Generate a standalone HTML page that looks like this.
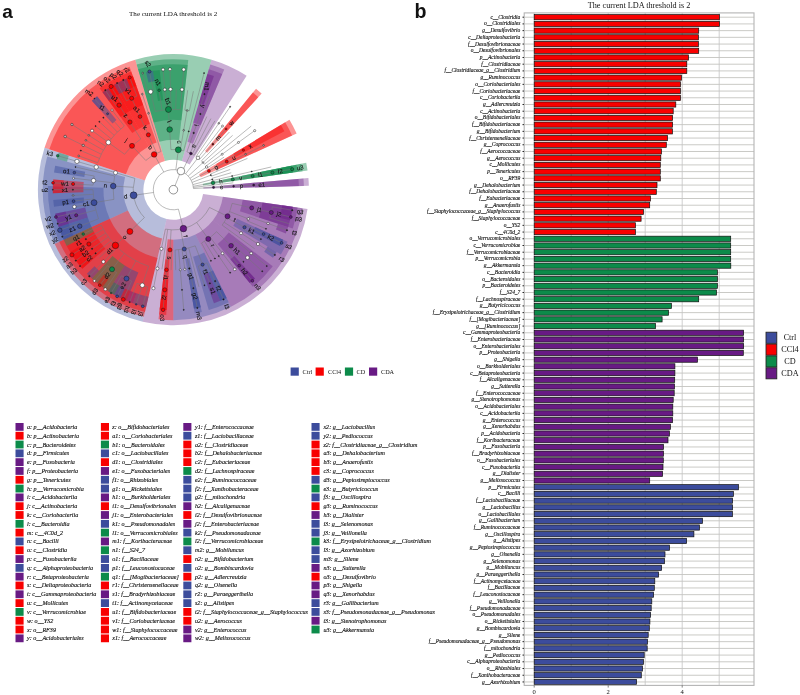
<!DOCTYPE html>
<html lang="en"><head><meta charset="utf-8"><title>LEfSe cladogram and LDA scores</title>
<style>html,body{margin:0;padding:0;background:#fff}body{width:800px;height:695px;overflow:hidden}svg{display:block}text{white-space:pre}</style></head><body>
<svg width="800" height="695" viewBox="0 0 800 695">
<rect width="800" height="695" fill="#fff"/>
<text x="2.2" y="18.2" font-family="'Liberation Sans', Arial, sans-serif" font-weight="bold" font-size="19" fill="#111">a</text>
<text x="414.6" y="18.2" font-family="'Liberation Sans', Arial, sans-serif" font-weight="bold" font-size="19.6" fill="#111">b</text>
<text x="173.2" y="16.2" font-family="'Liberation Serif', serif" font-size="7.05" text-anchor="middle" fill="#111">The current LDA threshold is 2</text>
<g id="cladogram"><g stroke="none"><path d="M203.39 188.84L308.84 185.83A135.5 135.5 0 0 0 308.4 178.1L203.29 187.13A30 30 0 0 1 203.39 188.84Z" fill="#681a84" fill-opacity="0.35"/><path d="M203.09 185.43L307.52 170.42A135.5 135.5 0 0 0 306.2 162.79L202.8 183.74A30 30 0 0 1 203.09 185.43Z" fill="#0c8b4a" fill-opacity="0.42"/><path d="M200.69 177.24L296.66 133.41A135.5 135.5 0 0 0 289.44 119.73L199.09 174.21A30 30 0 0 1 200.69 177.24Z" fill="#f80000" fill-opacity="0.42"/><path d="M189.62 164.46L246.66 75.71A135.5 135.5 0 0 0 211.57 59.69L181.85 160.92A30 30 0 0 1 189.62 164.46Z" fill="#681a84" fill-opacity="0.35"/><path d="M181.85 160.92L211.57 59.69A135.5 135.5 0 0 0 135.23 59.69L164.95 160.92A30 30 0 0 1 181.85 160.92Z" fill="#0c8b4a" fill-opacity="0.42"/><path d="M164.95 160.92L135.23 59.69A135.5 135.5 0 0 0 44.53 147.83L144.87 180.43A30 30 0 0 1 164.95 160.92Z" fill="#f80000" fill-opacity="0.42"/><path d="M144.87 180.43L44.53 147.83A135.5 135.5 0 0 0 142.71 321.68L166.61 218.92A30 30 0 0 1 144.87 180.43Z" fill="#3c4c9c" fill-opacity="0.37"/><path d="M166.61 218.92L142.71 321.68A135.5 135.5 0 0 0 307.52 208.98L203.09 193.97A30 30 0 0 1 166.61 218.92Z" fill="#681a84" fill-opacity="0.35"/><path d="M223.38 188.27L303.85 185.97A130.5 130.5 0 0 0 303.42 178.53L223.22 185.42A50 50 0 0 1 223.38 188.27Z" fill="#681a84" fill-opacity="0.35"/><path d="M222.89 182.58L302.57 171.13A130.5 130.5 0 0 0 301.3 163.78L222.4 179.77A50 50 0 0 1 222.89 182.58Z" fill="#0c8b4a" fill-opacity="0.42"/><path d="M218.88 168.93L292.11 135.49A130.5 130.5 0 0 0 285.15 122.31L216.22 163.88A50 50 0 0 1 218.88 168.93Z" fill="#f80000" fill-opacity="0.42"/><path d="M207.21 152.86L261.64 93.56A130.5 130.5 0 0 0 256.01 88.67L205.05 150.99A50 50 0 0 1 207.21 152.86Z" fill="#f80000" fill-opacity="0.42"/><path d="M192.86 143.64L224.2 69.49A130.5 130.5 0 0 0 210.17 64.49L187.49 141.73A50 50 0 0 1 192.86 143.64Z" fill="#681a84" fill-opacity="0.35"/><path d="M179.1 140.03L188.28 60.05A130.5 130.5 0 0 0 136.63 64.49L159.31 141.73A50 50 0 0 1 179.1 140.03Z" fill="#0c8b4a" fill-opacity="0.42"/><path d="M156.6 142.61L129.55 66.79A130.5 130.5 0 0 0 109.23 76.07L148.81 146.16A50 50 0 0 1 156.6 142.61Z" fill="#f80000" fill-opacity="0.42"/><path d="M148.81 146.16L109.23 76.07A130.5 130.5 0 0 0 49.29 149.37L125.85 174.25A50 50 0 0 1 148.81 146.16Z" fill="#f80000" fill-opacity="0.42"/><path d="M125.04 176.99L47.19 156.52A130.5 130.5 0 0 0 54.69 243.91L127.92 210.47A50 50 0 0 1 125.04 176.99Z" fill="#3c4c9c" fill-opacity="0.37"/><path d="M127.92 210.47L54.69 243.91A130.5 130.5 0 0 0 143.84 316.81L162.08 238.4A50 50 0 0 1 127.92 210.47Z" fill="#f80000" fill-opacity="0.42"/><path d="M167.7 239.37L158.52 319.35A130.5 130.5 0 0 0 173.4 320.2L173.4 239.7A50 50 0 0 1 167.7 239.37Z" fill="#f80000" fill-opacity="0.42"/><path d="M173.4 239.7L173.4 320.2A130.5 130.5 0 0 0 230.98 306.81L195.46 234.57A50 50 0 0 1 173.4 239.7Z" fill="#3c4c9c" fill-opacity="0.37"/><path d="M195.46 234.57L230.98 306.81A130.5 130.5 0 0 0 276.74 269.39L213 220.23A50 50 0 0 1 195.46 234.57Z" fill="#681a84" fill-opacity="0.35"/><path d="M213 220.23L276.74 269.39A130.5 130.5 0 0 0 302.57 208.27L222.89 196.82A50 50 0 0 1 213 220.23Z" fill="#681a84" fill-opacity="0.35"/><path d="M243.37 187.7L298.85 186.12A125.5 125.5 0 0 0 298.44 178.96L243.14 183.71A70 70 0 0 1 243.37 187.7Z" fill="#681a84" fill-opacity="0.35"/><path d="M242.69 179.74L297.62 171.84A125.5 125.5 0 0 0 296.4 164.78L242.01 175.8A70 70 0 0 1 242.69 179.74Z" fill="#0c8b4a" fill-opacity="0.42"/><path d="M235.31 157.03L284.4 131.13A125.5 125.5 0 0 0 280.87 124.89L233.34 153.55A70 70 0 0 1 235.31 157.03Z" fill="#f80000" fill-opacity="0.42"/><path d="M220.73 138.13L258.26 97.24A125.5 125.5 0 0 0 252.84 92.55L217.71 135.51A70 70 0 0 1 220.73 138.13Z" fill="#f80000" fill-opacity="0.42"/><path d="M200.65 125.22L222.25 74.1A125.5 125.5 0 0 0 208.76 69.28L193.12 122.54A70 70 0 0 1 200.65 125.22Z" fill="#681a84" fill-opacity="0.35"/><path d="M181.38 120.16L187.71 65.02A125.5 125.5 0 0 0 138.04 69.28L153.68 122.54A70 70 0 0 1 181.38 120.16Z" fill="#0c8b4a" fill-opacity="0.42"/><path d="M149.88 123.77L131.23 71.5A125.5 125.5 0 0 0 111.69 80.42L138.98 128.75A70 70 0 0 1 149.88 123.77Z" fill="#f80000" fill-opacity="0.42"/><path d="M138.98 128.75L111.69 80.42A125.5 125.5 0 0 0 99.63 88.17L132.26 133.07A70 70 0 0 1 138.98 128.75Z" fill="#f80000" fill-opacity="0.42"/><path d="M103.43 187.7L47.95 186.12A125.5 125.5 0 0 0 59.24 241.83L109.73 218.78A70 70 0 0 1 103.43 187.7Z" fill="#3c4c9c" fill-opacity="0.37"/><path d="M109.73 218.78L59.24 241.83A125.5 125.5 0 0 0 144.97 311.94L157.55 257.88A70 70 0 0 1 109.73 218.78Z" fill="#f80000" fill-opacity="0.42"/><path d="M165.42 259.24L159.09 314.38A125.5 125.5 0 0 0 166.24 315L169.4 259.59A70 70 0 0 1 165.42 259.24Z" fill="#f80000" fill-opacity="0.42"/><path d="M185.34 258.67L194.8 313.36A125.5 125.5 0 0 0 201.83 311.94L189.25 257.88A70 70 0 0 1 185.34 258.67Z" fill="#3c4c9c" fill-opacity="0.37"/><path d="M193.12 256.86L208.76 310.12A125.5 125.5 0 0 0 228.77 302.32L204.29 252.52A70 70 0 0 1 193.12 256.86Z" fill="#3c4c9c" fill-opacity="0.37"/><path d="M217.71 243.89L252.84 286.85A125.5 125.5 0 0 0 272.78 266.34L228.83 232.45A70 70 0 0 1 217.71 243.89Z" fill="#681a84" fill-opacity="0.35"/><path d="M233.34 225.85L280.87 254.51A125.5 125.5 0 0 0 287.56 241.83L237.07 218.78A70 70 0 0 1 233.34 225.85Z" fill="#3c4c9c" fill-opacity="0.37"/><path d="M239.97 211.33L292.76 228.48A125.5 125.5 0 0 0 297.62 207.56L242.69 199.66A70 70 0 0 1 239.97 211.33Z" fill="#681a84" fill-opacity="0.35"/><path d="M262.48 176.89L292.77 172.54A120.6 120.6 0 0 0 291.6 165.75L261.61 171.83A90 90 0 0 1 262.48 176.89Z" fill="#0c8b4a" fill-opacity="0.42"/><path d="M203.64 104.93L213.93 76.11A120.6 120.6 0 0 0 207.38 73.99L198.76 103.35A90 90 0 0 1 203.64 104.93Z" fill="#681a84" fill-opacity="0.45"/><path d="M163.14 100.29L159.65 69.89A120.6 120.6 0 0 0 152.84 70.87L158.05 101.02A90 90 0 0 1 163.14 100.29Z" fill="#0c8b4a" fill-opacity="0.42"/><path d="M143.16 104.93L132.87 76.11A120.6 120.6 0 0 0 114.1 84.69L129.14 111.33A90 90 0 0 1 143.16 104.93Z" fill="#f80000" fill-opacity="0.42"/><path d="M129.14 111.33L114.1 84.69A120.6 120.6 0 0 0 102.51 92.13L120.5 116.89A90 90 0 0 1 129.14 111.33Z" fill="#f80000" fill-opacity="0.42"/><path d="M116.43 120.03L97.06 96.34A120.6 120.6 0 0 0 91.85 100.85L112.54 123.39A90 90 0 0 1 116.43 120.03Z" fill="#3c4c9c" fill-opacity="0.47"/><path d="M85.19 171.83L55.2 165.75A120.6 120.6 0 0 0 54.03 172.54L84.32 176.89A90 90 0 0 1 85.19 171.83Z" fill="#3c4c9c" fill-opacity="0.47"/><path d="M83.73 182L53.24 179.38A120.6 120.6 0 0 0 52.85 186.26L83.44 187.13A90 90 0 0 1 83.73 182Z" fill="#f80000" fill-opacity="0.42"/><path d="M83.44 187.13L52.85 186.26A120.6 120.6 0 0 0 52.85 193.14L83.44 192.27A90 90 0 0 1 83.44 187.13Z" fill="#f80000" fill-opacity="0.42"/><path d="M83.73 197.4L53.24 200.02A120.6 120.6 0 0 0 54.03 206.86L84.32 202.51A90 90 0 0 1 83.73 197.4Z" fill="#3c4c9c" fill-opacity="0.47"/><path d="M85.19 207.57L55.2 213.65A120.6 120.6 0 0 0 58.7 226.97L87.8 217.51A90 90 0 0 1 85.19 207.57Z" fill="#681a84" fill-opacity="0.45"/><path d="M87.8 217.51L58.7 226.97A120.6 120.6 0 0 0 63.7 239.8L91.53 227.09A90 90 0 0 1 87.8 217.51Z" fill="#3c4c9c" fill-opacity="0.47"/><path d="M91.53 227.09L63.7 239.8A120.6 120.6 0 0 0 66.74 245.98L93.8 231.7A90 90 0 0 1 91.53 227.09Z" fill="#0c8b4a" fill-opacity="0.42"/><path d="M93.8 231.7L66.74 245.98A120.6 120.6 0 0 0 70.12 251.98L96.33 236.18A90 90 0 0 1 93.8 231.7Z" fill="#f80000" fill-opacity="0.42"/><path d="M96.33 236.18L70.12 251.98A120.6 120.6 0 0 0 73.85 257.77L99.11 240.5A90 90 0 0 1 96.33 236.18Z" fill="#f80000" fill-opacity="0.42"/><path d="M99.11 240.5L73.85 257.77A120.6 120.6 0 0 0 77.9 263.34L102.13 244.66A90 90 0 0 1 99.11 240.5Z" fill="#f80000" fill-opacity="0.42"/><path d="M102.13 244.66L77.9 263.34A120.6 120.6 0 0 0 82.26 268.68L105.38 248.64A90 90 0 0 1 102.13 244.66Z" fill="#f80000" fill-opacity="0.42"/><path d="M112.54 256.01L91.85 278.55A120.6 120.6 0 0 0 108.2 291.16L124.74 265.41A90 90 0 0 1 112.54 256.01Z" fill="#0c8b4a" fill-opacity="0.42"/><path d="M124.74 265.41L108.2 291.16A120.6 120.6 0 0 0 126.45 300.79L138.37 272.6A90 90 0 0 1 124.74 265.41Z" fill="#3c4c9c" fill-opacity="0.47"/><path d="M163.14 279.11L159.65 309.51A120.6 120.6 0 0 0 166.52 310.1L168.26 279.55A90 90 0 0 1 163.14 279.11Z" fill="#f80000" fill-opacity="0.42"/><path d="M188.75 278.38L193.96 308.53A120.6 120.6 0 0 0 200.72 307.17L193.78 277.36A90 90 0 0 1 188.75 278.38Z" fill="#3c4c9c" fill-opacity="0.47"/><path d="M203.64 274.47L213.93 303.29A120.6 120.6 0 0 0 220.35 300.79L208.43 272.6A90 90 0 0 1 203.64 274.47Z" fill="#681a84" fill-opacity="0.45"/><path d="M208.43 272.6L220.35 300.79A120.6 120.6 0 0 0 226.61 297.93L213.11 270.47A90 90 0 0 1 208.43 272.6Z" fill="#3c4c9c" fill-opacity="0.47"/><path d="M230.37 259.37L249.74 283.06A120.6 120.6 0 0 0 254.95 278.55L234.26 256.01A90 90 0 0 1 230.37 259.37Z" fill="#681a84" fill-opacity="0.45"/><path d="M253 231.7L280.06 245.98A120.6 120.6 0 0 0 283.1 239.8L255.27 227.09A90 90 0 0 1 253 231.7Z" fill="#3c4c9c" fill-opacity="0.47"/><path d="M259 217.51L288.1 226.97A120.6 120.6 0 0 0 292.77 206.86L262.48 202.51A90 90 0 0 1 259 217.51Z" fill="#681a84" fill-opacity="0.45"/><path d="M282.28 174.05L292.77 172.54A120.6 120.6 0 0 0 291.6 165.75L281.21 167.86A110 110 0 0 1 282.28 174.05Z" fill="#0c8b4a" fill-opacity="0.42"/><path d="M154.64 81.31L152.84 70.87A120.6 120.6 0 0 0 146.08 72.23L148.49 82.56A110 110 0 0 1 154.64 81.31Z" fill="#3c4c9c" fill-opacity="0.47"/><path d="M136.43 86.1L132.87 76.11A120.6 120.6 0 0 0 126.45 78.61L130.58 88.38A110 110 0 0 1 136.43 86.1Z" fill="#f80000" fill-opacity="0.42"/><path d="M130.58 88.38L126.45 78.61A120.6 120.6 0 0 0 120.19 81.47L124.87 90.99A110 110 0 0 1 130.58 88.38Z" fill="#3c4c9c" fill-opacity="0.47"/><path d="M124.87 90.99L120.19 81.47A120.6 120.6 0 0 0 114.1 84.69L119.31 93.92A110 110 0 0 1 124.87 90.99Z" fill="#3c4c9c" fill-opacity="0.47"/><path d="M119.31 93.92L114.1 84.69A120.6 120.6 0 0 0 108.2 88.24L113.93 97.16A110 110 0 0 1 119.31 93.92Z" fill="#f80000" fill-opacity="0.42"/><path d="M113.93 97.16L108.2 88.24A120.6 120.6 0 0 0 102.51 92.13L108.74 100.71A110 110 0 0 1 113.93 97.16Z" fill="#3c4c9c" fill-opacity="0.47"/><path d="M103.77 104.54L97.06 96.34A120.6 120.6 0 0 0 91.85 100.85L99.02 108.66A110 110 0 0 1 103.77 104.54Z" fill="#3c4c9c" fill-opacity="0.47"/><path d="M68.78 155.71L58.7 152.43A120.6 120.6 0 0 0 56.76 159.04L67.01 161.74A110 110 0 0 1 68.78 155.71Z" fill="#0c8b4a" fill-opacity="0.42"/><path d="M63.8 180.29L53.24 179.38A120.6 120.6 0 0 0 52.85 186.26L63.44 186.56A110 110 0 0 1 63.8 180.29Z" fill="#f80000" fill-opacity="0.42"/><path d="M63.44 186.56L52.85 186.26A120.6 120.6 0 0 0 52.85 193.14L63.44 192.84A110 110 0 0 1 63.44 186.56Z" fill="#f80000" fill-opacity="0.42"/><path d="M65.59 211.54L55.2 213.65A120.6 120.6 0 0 0 56.76 220.36L67.01 217.66A110 110 0 0 1 65.59 211.54Z" fill="#681a84" fill-opacity="0.45"/><path d="M67.01 217.66L56.76 220.36A120.6 120.6 0 0 0 58.7 226.97L68.78 223.69A110 110 0 0 1 67.01 217.66Z" fill="#681a84" fill-opacity="0.45"/><path d="M68.78 223.69L58.7 226.97A120.6 120.6 0 0 0 61.02 233.45L70.89 229.61A110 110 0 0 1 68.78 223.69Z" fill="#3c4c9c" fill-opacity="0.47"/><path d="M70.89 229.61L61.02 233.45A120.6 120.6 0 0 0 63.7 239.8L73.34 235.4A110 110 0 0 1 70.89 229.61Z" fill="#3c4c9c" fill-opacity="0.47"/><path d="M79.2 246.5L70.12 251.98A120.6 120.6 0 0 0 73.85 257.77L82.6 251.79A110 110 0 0 1 79.2 246.5Z" fill="#f80000" fill-opacity="0.42"/><path d="M82.6 251.79L73.85 257.77A120.6 120.6 0 0 0 77.9 263.34L86.29 256.87A110 110 0 0 1 82.6 251.79Z" fill="#f80000" fill-opacity="0.42"/><path d="M86.29 256.87L77.9 263.34A120.6 120.6 0 0 0 82.26 268.68L90.27 261.73A110 110 0 0 1 86.29 256.87Z" fill="#f80000" fill-opacity="0.42"/><path d="M94.52 266.36L86.91 273.75A120.6 120.6 0 0 0 91.85 278.55L99.02 270.74A110 110 0 0 1 94.52 266.36Z" fill="#3c4c9c" fill-opacity="0.47"/><path d="M103.77 274.86L97.06 283.06A120.6 120.6 0 0 0 102.51 287.27L108.74 278.69A110 110 0 0 1 103.77 274.86Z" fill="#f80000" fill-opacity="0.42"/><path d="M113.93 282.24L108.2 291.16A120.6 120.6 0 0 0 114.1 294.71L119.31 285.48A110 110 0 0 1 113.93 282.24Z" fill="#0c8b4a" fill-opacity="0.42"/><path d="M119.31 285.48L114.1 294.71A120.6 120.6 0 0 0 120.19 297.93L124.87 288.41A110 110 0 0 1 119.31 285.48Z" fill="#3c4c9c" fill-opacity="0.47"/><path d="M124.87 288.41L120.19 297.93A120.6 120.6 0 0 0 126.45 300.79L130.58 291.02A110 110 0 0 1 124.87 288.41Z" fill="#f80000" fill-opacity="0.42"/><path d="M130.58 291.02L126.45 300.79A120.6 120.6 0 0 0 132.87 303.29L136.43 293.3A110 110 0 0 1 130.58 291.02Z" fill="#681a84" fill-opacity="0.45"/><path d="M136.43 293.3L132.87 303.29A120.6 120.6 0 0 0 139.42 305.41L142.41 295.24A110 110 0 0 1 136.43 293.3Z" fill="#3c4c9c" fill-opacity="0.47"/><path d="M142.41 295.24L139.42 305.41A120.6 120.6 0 0 0 146.08 307.17L148.49 296.84A110 110 0 0 1 142.41 295.24Z" fill="#3c4c9c" fill-opacity="0.47"/><path d="M160.86 298.98L159.65 309.51A120.6 120.6 0 0 0 166.52 310.1L167.12 299.52A110 110 0 0 1 160.86 298.98Z" fill="#f80000" fill-opacity="0.42"/><path d="M192.16 298.09L193.96 308.53A120.6 120.6 0 0 0 200.72 307.17L198.31 296.84A110 110 0 0 1 192.16 298.09Z" fill="#3c4c9c" fill-opacity="0.47"/><path d="M216.22 291.02L220.35 300.79A120.6 120.6 0 0 0 226.61 297.93L221.93 288.41A110 110 0 0 1 216.22 291.02Z" fill="#3c4c9c" fill-opacity="0.47"/><path d="M243.03 274.86L249.74 283.06A120.6 120.6 0 0 0 254.95 278.55L247.78 270.74A110 110 0 0 1 243.03 274.86Z" fill="#681a84" fill-opacity="0.45"/><path d="M264.2 251.79L272.95 257.77A120.6 120.6 0 0 0 276.68 251.98L267.6 246.5A110 110 0 0 1 264.2 251.79Z" fill="#3c4c9c" fill-opacity="0.47"/><path d="M270.69 241.03L280.06 245.98A120.6 120.6 0 0 0 283.1 239.8L273.46 235.4A110 110 0 0 1 270.69 241.03Z" fill="#3c4c9c" fill-opacity="0.47"/><path d="M275.91 229.61L285.78 233.45A120.6 120.6 0 0 0 288.1 226.97L278.02 223.69A110 110 0 0 1 275.91 229.61Z" fill="#681a84" fill-opacity="0.45"/><path d="M279.79 217.66L290.04 220.36A120.6 120.6 0 0 0 291.6 213.65L281.21 211.54A110 110 0 0 1 279.79 217.66Z" fill="#681a84" fill-opacity="0.45"/><path d="M281.21 211.54L291.6 213.65A120.6 120.6 0 0 0 292.77 206.86L282.28 205.35A110 110 0 0 1 281.21 211.54Z" fill="#681a84" fill-opacity="0.45"/></g>
<path d="M173.4 189.7L180.95 171.07M193.47 188.55A20.1 20.1 0 1 0 178.41 209.17M193.47 188.55L213.53 187.41M193.37 187.41L213.34 185.12M193.21 186.27L213.01 182.85M192.84 184.59L212.28 179.48M192.13 182.41L210.86 175.12M191.18 180.32L208.95 170.94M189.99 178.35L206.58 167.01M188.21 176.11L203.02 162.52M185.67 173.78L197.95 157.87M182.14 171.6L190.88 153.5M175.85 169.75L178.3 149.8M163.77 172.06L154.13 154.42M153.5 192.5L133.59 195.3M178.41 209.17L183.42 228.63M213.53 187.41L233.6 186.26M233.6 186.26L253.67 185.11M253.67 185.11L273.74 183.96M213.34 185.12L233.31 182.83M213.01 182.85L232.82 179.42M232.82 179.42L252.62 175.99M252.62 175.99L272.43 172.56M272.43 172.56L292.23 169.14M212.56 180.59A40.2 40.2 0 0 0 211.97 178.37M212.56 180.59L232.13 176.04M211.97 178.37L231.26 172.71M232.13 176.04L251.71 171.49M251.71 171.49L271.29 166.94M211.26 176.19A40.2 40.2 0 0 0 210.43 174.05M211.26 176.19L230.19 169.44M210.43 174.05L228.94 166.23M228.94 166.23L247.46 158.4M208.95 170.94L226.73 161.56M227.51 163.09A60.3 60.3 0 0 0 225.91 160.05M227.51 163.09L245.55 154.23M225.91 160.05L243.41 150.16M245.55 154.23L263.59 145.36M207.22 167.97A40.2 40.2 0 0 0 205.92 166.07M207.22 167.97L224.13 157.1M205.92 166.07L222.18 154.26M222.18 154.26L238.44 142.44M238.44 142.44L254.71 130.63M204.52 164.25A40.2 40.2 0 0 0 201.42 160.87M204.52 164.25L220.08 151.53M203.02 162.52L217.83 148.93M201.42 160.87L215.43 146.46M220.08 151.53L235.64 138.81M235.64 138.81L251.2 126.08M217.83 148.93L232.63 135.34M215.43 146.46L229.43 132.04M199.73 159.32A40.2 40.2 0 0 0 196.09 156.52M199.73 159.32L212.89 144.13M197.95 157.87L210.22 141.95M196.09 156.52L207.44 139.92M212.89 144.13L226.05 128.94M210.22 141.95L222.5 126.03M207.44 139.92L218.78 123.33M218.78 123.33L230.13 106.74M194.16 155.27A40.2 40.2 0 0 0 186.91 151.84M194.16 155.27L204.54 138.06M192.16 154.15L201.54 136.37M190.1 153.13L198.45 134.85M186.91 151.84L193.66 132.91M204.54 138.06L214.92 120.85M201.54 136.37L210.92 118.59M198.45 134.85L206.8 116.57M193.66 132.91L200.42 113.98M202.57 114.78A80.4 80.4 0 0 0 198.24 113.24M202.57 114.78L209.86 96.05M198.24 113.24L204.46 94.12M183.62 150.82A40.2 40.2 0 0 0 170.91 149.58M183.62 150.82L188.73 131.38M180.25 150.09L183.68 130.28M170.91 149.58L169.67 129.52M188.73 131.38L193.84 111.94M193.84 111.94L198.95 92.5M198.95 92.5L204.06 73.06M183.68 130.28L187.11 110.48M189.37 110.9A80.4 80.4 0 0 0 184.84 110.12M189.37 110.9L193.36 91.2M184.84 110.12L187.7 90.22M169.67 129.52L168.43 109.45M180.28 109.59A80.4 80.4 0 0 0 155.19 111.39M180.28 109.59L182 89.57M175.7 109.33L176.27 89.24M171.1 109.33L170.53 89.24M166.52 109.59L164.8 89.57M161.96 110.12L159.1 90.22M155.19 111.39L150.64 91.81M182 89.57L183.72 69.54M170.53 89.24L169.96 69.15M164.8 89.57L163.08 69.54M153.44 91.2A100.5 100.5 0 0 0 147.85 92.5M153.44 91.2L149.45 71.5M147.85 92.5L142.74 73.06M160.98 151.47A40.2 40.2 0 0 0 145.8 160.47M160.98 151.47L154.77 132.35M156.7 153.13L148.35 134.85M145.8 160.47L132 145.86M154.77 132.35L148.56 113.24M148.56 113.24L142.34 94.12M148.35 134.85L140 116.57M140 116.57L131.65 98.28M136.94 96.05A100.5 100.5 0 0 0 126.5 100.81M136.94 96.05L129.65 77.32M131.65 98.28L123.3 80M126.5 100.81L117.12 83.04M140.8 138.97A60.3 60.3 0 0 0 124.62 154.26M140.8 138.97L129.93 122.06M124.62 154.26L108.36 142.44M129.93 122.06L119.07 105.15M121.5 103.64A100.5 100.5 0 0 0 116.67 106.74M121.5 103.64L111.12 86.42M116.67 106.74L105.33 90.15M124.3 126.03A80.4 80.4 0 0 0 97.68 162.68M124.3 126.03L112.03 110.11M120.75 128.94L107.59 113.75M117.37 132.04L103.36 117.63M114.17 135.34L99.36 121.74M111.16 138.81L95.6 126.08M108.36 142.44L92.09 130.63M105.76 146.23L88.85 135.37M103.39 150.16L85.89 140.28M101.25 154.23L83.21 145.36M99.34 158.4L80.83 150.58M97.68 162.68L78.74 155.93M107.59 113.75L94.42 98.56M88.85 135.37L71.94 124.5M83.21 145.36L65.17 136.49M134.83 178.37A40.2 40.2 0 0 0 144.41 217.55M134.83 178.37L115.54 172.71M133.27 187.28L113.21 186.07M144.41 217.55L129.92 231.48M115.54 172.71L96.26 167.05M96.26 167.05L76.97 161.39M76.97 161.39L57.69 155.72M114.67 176.04A60.3 60.3 0 0 0 113.89 199.42M114.67 176.04L95.09 171.49M113.49 182.83L93.52 180.54M113.89 199.42L94.05 202.66M95.09 171.49L75.51 166.94M94.18 175.99A80.4 80.4 0 0 0 93.13 185.11M94.18 175.99L74.37 172.56M93.52 180.54L73.56 178.24M93.13 185.11L73.06 183.96M73.06 183.96L53 182.82M93 189.7A80.4 80.4 0 0 0 98.48 218.87M93 189.7L72.9 189.7M93.13 194.29L73.06 195.44M93.52 198.86L73.56 201.16M94.18 203.41L74.37 206.84M95.64 210.14L76.2 215.25M98.48 218.87L79.75 226.16M72.9 189.7L52.8 189.7M75.51 212.46A100.5 100.5 0 0 0 76.97 218.01M75.51 212.46L55.93 217.02M76.97 218.01L57.69 223.68M78.74 223.47A100.5 100.5 0 0 0 80.83 228.82M78.74 223.47L59.81 230.23M80.83 228.82L62.31 236.65M129.92 231.48L115.42 245.4M101.25 225.17A80.4 80.4 0 0 0 148.56 266.16M101.25 225.17L83.21 234.04M103.39 229.24L85.89 239.12M105.76 233.17L88.85 244.03M108.36 236.96L92.09 248.77M111.16 240.59L95.6 253.32M114.17 244.06L99.36 257.66M117.37 247.36L103.36 261.77M124.3 253.37L112.03 269.29M135.88 260.81L126.5 278.59M148.56 266.16L142.34 285.28M88.85 244.03L71.94 254.9M92.09 248.77L75.83 260.59M95.6 253.32L80.04 266.04M103.36 261.77L89.35 276.19M107.59 265.65A100.5 100.5 0 0 0 116.67 272.66M107.59 265.65L94.42 280.84M112.03 269.29L99.76 285.2M116.67 272.66L105.33 289.25M121.5 275.76A100.5 100.5 0 0 0 131.65 281.12M121.5 275.76L111.12 292.98M126.5 278.59L117.12 296.36M131.65 281.12L123.3 299.4M136.94 283.35A100.5 100.5 0 0 0 147.85 286.9M136.94 283.35L129.65 302.08M142.34 285.28L136.13 304.4M147.85 286.9L142.74 306.34M165.42 229.1A40.2 40.2 0 0 0 209.48 207.44M165.42 229.1L161.42 248.8M167.68 229.49L164.82 249.39M171.11 229.83L169.96 249.9M180.63 229.24L184.25 249.02M196.66 222.49L208.28 238.89M209.48 207.44L227.51 216.31M161.42 248.8L157.43 268.5M157.43 268.5L153.44 288.2M164.82 249.39L161.96 269.28M168.24 249.78A60.3 60.3 0 0 0 171.68 249.98M168.24 249.78L166.52 269.81M171.68 249.98L171.1 270.07M166.52 269.81L164.8 289.83M164.8 289.83L163.08 309.86M175.12 249.98A60.3 60.3 0 0 0 195.28 245.89M175.12 249.98L175.7 270.07M178.56 249.78L180.28 269.81M181.98 249.39L184.84 269.28M185.38 248.8L189.37 268.5M188.73 248.02L193.84 267.46M195.28 245.89L202.57 264.62M180.28 269.81L182 289.83M182 289.83L183.72 309.86M189.37 268.5L193.36 288.2M193.36 288.2L197.35 307.9M193.84 267.46L198.95 286.9M198.24 266.16A80.4 80.4 0 0 0 206.8 262.83M198.24 266.16L204.46 285.28M202.57 264.62L209.86 283.35M206.8 262.83L215.15 281.12M215.15 281.12L223.5 299.4M201.54 243.03A60.3 60.3 0 0 0 216.64 231.73M201.54 243.03L210.92 260.81M204.54 241.34L214.92 258.55M207.44 239.48L218.78 256.07M210.22 237.45L222.5 253.37M216.64 231.73L231.06 245.73M218.78 256.07L230.13 272.66M222.5 253.37L234.77 269.29M226.05 250.46A80.4 80.4 0 0 0 235.64 240.59M226.05 250.46L239.21 265.65M229.43 247.36L243.44 261.77M232.63 244.06L247.44 257.66M235.64 240.59L251.2 253.32M239.21 265.65L252.38 280.84M247.44 257.66L262.25 271.25M251.2 253.32L266.76 266.04M222.18 225.14A60.3 60.3 0 0 0 232.13 203.36M222.18 225.14L238.44 236.96M224.13 222.3L241.04 233.17M226.73 217.84L244.51 227.22M229.59 211.58L248.32 218.87M232.13 203.36L251.71 207.91M238.44 236.96L254.71 248.77M241.04 233.17L257.95 244.03M257.95 244.03L274.86 254.9M243.41 229.24A80.4 80.4 0 0 0 245.55 225.17M243.41 229.24L260.91 239.12M245.55 225.17L263.59 234.04M263.59 234.04L281.63 242.91M247.46 221A80.4 80.4 0 0 0 249.12 216.72M247.46 221L265.97 228.82M249.12 216.72L268.06 223.47M268.06 223.47L286.99 230.23M251.71 207.91L271.29 212.46M269.83 218.01A100.5 100.5 0 0 0 272.43 206.84M269.83 218.01L289.11 223.68M271.29 212.46L290.87 217.02M272.43 206.84L292.23 210.26" fill="none" stroke="#767676" stroke-width="0.5"/>
<g stroke="#111" stroke-width="0.45"><circle cx="94.42" cy="98.56" r="0.5" fill="#222222"/><circle cx="52.8" cy="189.7" r="0.5" fill="#222222"/><circle cx="212.28" cy="179.48" r="0.55" fill="#222222"/><circle cx="232.13" cy="176.04" r="0.55" fill="#222222"/><circle cx="251.71" cy="171.49" r="0.55" fill="#222222"/><circle cx="210.86" cy="175.12" r="0.55" fill="#222222"/><circle cx="230.13" cy="106.74" r="0.55" fill="#222222"/><circle cx="188.73" cy="131.38" r="0.55" fill="#222222"/><circle cx="204.06" cy="73.06" r="0.55" fill="#222222"/><circle cx="103.36" cy="117.63" r="0.55" fill="#222222"/><circle cx="99.36" cy="121.74" r="0.55" fill="#222222"/><circle cx="95.6" cy="126.08" r="0.55" fill="#222222"/><circle cx="80.83" cy="150.58" r="0.55" fill="#222222"/><circle cx="75.51" cy="166.94" r="0.55" fill="#222222"/><circle cx="182" cy="289.83" r="0.55" fill="#222222"/><circle cx="183.72" cy="309.86" r="0.55" fill="#222222"/><circle cx="204.46" cy="285.28" r="0.55" fill="#222222"/><circle cx="210.92" cy="260.81" r="0.55" fill="#222222"/><circle cx="214.92" cy="258.55" r="0.55" fill="#222222"/><circle cx="218.78" cy="256.07" r="0.55" fill="#222222"/><circle cx="230.13" cy="272.66" r="0.55" fill="#222222"/><circle cx="243.44" cy="261.77" r="0.55" fill="#222222"/><circle cx="262.25" cy="271.25" r="0.55" fill="#222222"/><circle cx="266.76" cy="266.04" r="0.55" fill="#222222"/><circle cx="260.91" cy="239.12" r="0.55" fill="#222222"/><circle cx="265.97" cy="228.82" r="0.55" fill="#222222"/><circle cx="72.9" cy="189.7" r="0.6" fill="#222222"/><circle cx="57.69" cy="223.68" r="0.6" fill="#222222"/><circle cx="200.42" cy="113.98" r="0.65" fill="#222222"/><circle cx="204.46" cy="94.12" r="0.65" fill="#222222"/><circle cx="123.3" cy="80" r="0.65" fill="#222222"/><circle cx="117.12" cy="83.04" r="0.65" fill="#222222"/><circle cx="105.33" cy="90.15" r="0.65" fill="#222222"/><circle cx="62.31" cy="236.65" r="0.65" fill="#222222"/><circle cx="85.89" cy="239.12" r="0.65" fill="#222222"/><circle cx="92.09" cy="248.77" r="0.65" fill="#222222"/><circle cx="75.83" cy="260.59" r="0.65" fill="#222222"/><circle cx="95.6" cy="253.32" r="0.65" fill="#222222"/><circle cx="80.04" cy="266.04" r="0.65" fill="#222222"/><circle cx="129.65" cy="302.08" r="0.65" fill="#222222"/><circle cx="193.36" cy="288.2" r="0.65" fill="#222222"/><circle cx="197.35" cy="307.9" r="0.65" fill="#222222"/><circle cx="274.86" cy="254.9" r="0.65" fill="#222222"/><circle cx="286.99" cy="230.23" r="0.65" fill="#222222"/><circle cx="209.86" cy="283.35" r="0.7" fill="#222222"/><circle cx="215.15" cy="281.12" r="0.7" fill="#222222"/><circle cx="223.5" cy="299.4" r="0.7" fill="#222222"/><circle cx="292.23" cy="210.26" r="0.7" fill="#222222"/><circle cx="193.66" cy="132.91" r="0.75" fill="#222222"/><circle cx="203.02" cy="162.52" r="0.8" fill="#ffffff"/><circle cx="89.35" cy="276.19" r="0.8" fill="#222222"/><circle cx="111.12" cy="292.98" r="0.8" fill="#0c8b4a"/><circle cx="136.13" cy="304.4" r="0.8" fill="#3c4c9c"/><circle cx="189.37" cy="268.5" r="0.8" fill="#222222"/><circle cx="245.55" cy="154.23" r="0.85" fill="#bbbbbb"/><circle cx="263.59" cy="145.36" r="0.85" fill="#bbbbbb"/><circle cx="218.78" cy="123.33" r="0.85" fill="#bbbbbb"/><circle cx="183.68" cy="130.28" r="0.85" fill="#bbbbbb"/><circle cx="187.11" cy="110.48" r="0.85" fill="#bbbbbb"/><circle cx="142.74" cy="73.06" r="0.85" fill="#bbbbbb"/><circle cx="148.56" cy="113.24" r="0.85" fill="#bbbbbb"/><circle cx="142.34" cy="94.12" r="0.85" fill="#bbbbbb"/><circle cx="88.85" cy="135.37" r="0.85" fill="#bbbbbb"/><circle cx="85.89" cy="140.28" r="0.85" fill="#bbbbbb"/><circle cx="78.74" cy="155.93" r="0.85" fill="#bbbbbb"/><circle cx="73.06" cy="195.44" r="0.85" fill="#bbbbbb"/><circle cx="233.6" cy="186.26" r="0.9" fill="#3a0a4a"/><circle cx="253.67" cy="185.11" r="1" fill="#3a0a4a"/><circle cx="222.18" cy="154.26" r="1" fill="#ffffff"/><circle cx="238.44" cy="142.44" r="1" fill="#ffffff"/><circle cx="212.89" cy="144.13" r="1" fill="#7a0000"/><circle cx="226.05" cy="128.94" r="1" fill="#f80000"/><circle cx="222.5" cy="126.03" r="1" fill="#ffffff"/><circle cx="107.59" cy="113.75" r="1" fill="#3c4c9c"/><circle cx="73.56" cy="178.24" r="1" fill="#ffffff"/><circle cx="180.28" cy="269.81" r="1" fill="#ffffff"/><circle cx="112.03" cy="110.11" r="1.05" fill="#ffffff"/><circle cx="213.53" cy="187.41" r="1.1" fill="#3a0a4a"/><circle cx="254.71" cy="130.63" r="1.1" fill="#ffffff"/><circle cx="184.84" cy="269.28" r="1.1" fill="#ffffff"/><circle cx="243.41" cy="150.16" r="1.15" fill="#f80000"/><circle cx="268.06" cy="223.47" r="1.15" fill="#ffffff"/><circle cx="71.94" cy="124.5" r="1.2" fill="#bbbbbb"/><circle cx="83.21" cy="145.36" r="1.2" fill="#bbbbbb"/><circle cx="248.32" cy="218.87" r="1.2" fill="#ffffff"/><circle cx="206.58" cy="167.01" r="1.25" fill="#ffffff"/><circle cx="190.88" cy="153.5" r="1.3" fill="#3a0a4a"/><circle cx="159.1" cy="90.22" r="1.3" fill="#0c8b4a"/><circle cx="57.69" cy="155.72" r="1.3" fill="#0c8b4a"/><circle cx="74.37" cy="172.56" r="1.3" fill="#3c4c9c"/><circle cx="83.21" cy="234.04" r="1.3" fill="#0c8b4a"/><circle cx="94.42" cy="280.84" r="1.3" fill="#ffffff"/><circle cx="222.5" cy="253.37" r="1.3" fill="#ffffff"/><circle cx="251.2" cy="253.32" r="1.35" fill="#ffffff"/><circle cx="65.17" cy="136.49" r="1.3" fill="#bbbbbb"/><circle cx="234.77" cy="269.29" r="1.4" fill="#ffffff"/><circle cx="169.96" cy="69.15" r="1.5" fill="#ffffff"/><circle cx="164.8" cy="89.57" r="1.5" fill="#ffffff"/><circle cx="163.08" cy="69.54" r="1.5" fill="#ffffff"/><circle cx="92.09" cy="130.63" r="1.5" fill="#ffffff"/><circle cx="53" cy="182.82" r="1.4" fill="#f80000"/><circle cx="73.56" cy="201.16" r="1.4" fill="#3c4c9c"/><circle cx="55.93" cy="217.02" r="1.4" fill="#681a84"/><circle cx="99.76" cy="285.2" r="1.4" fill="#f80000"/><circle cx="105.33" cy="289.25" r="1.5" fill="#ffffff"/><circle cx="117.12" cy="296.36" r="1.4" fill="#3c4c9c"/><circle cx="142.74" cy="306.34" r="1.4" fill="#3c4c9c"/><circle cx="239.21" cy="265.65" r="1.4" fill="#681a84"/><circle cx="252.38" cy="280.84" r="1.4" fill="#681a84"/><circle cx="241.04" cy="233.17" r="1.5" fill="#ffffff"/><circle cx="263.59" cy="234.04" r="1.4" fill="#3c4c9c"/><circle cx="281.63" cy="242.91" r="1.4" fill="#3c4c9c"/><circle cx="290.87" cy="217.02" r="1.4" fill="#681a84"/><circle cx="161.42" cy="248.8" r="1.55" fill="#ffffff"/><circle cx="157.43" cy="268.5" r="1.55" fill="#ffffff"/><circle cx="153.44" cy="288.2" r="1.55" fill="#ffffff"/><circle cx="208.95" cy="170.94" r="1.49" fill="#f80000"/><circle cx="226.73" cy="161.56" r="1.49" fill="#f80000"/><circle cx="257.95" cy="244.03" r="1.6" fill="#ffffff"/><circle cx="232.82" cy="179.42" r="1.58" fill="#0c8b4a"/><circle cx="252.62" cy="175.99" r="1.58" fill="#0c8b4a"/><circle cx="272.43" cy="172.56" r="1.58" fill="#0c8b4a"/><circle cx="292.23" cy="169.14" r="1.58" fill="#0c8b4a"/><circle cx="182" cy="89.57" r="1.7" fill="#ffffff"/><circle cx="183.72" cy="69.54" r="1.7" fill="#ffffff"/><circle cx="170.53" cy="89.24" r="1.7" fill="#ffffff"/><circle cx="149.45" cy="71.5" r="1.58" fill="#3c4c9c"/><circle cx="129.65" cy="77.32" r="1.58" fill="#f80000"/><circle cx="73.06" cy="183.96" r="1.58" fill="#f80000"/><circle cx="76.2" cy="215.25" r="1.58" fill="#681a84"/><circle cx="103.36" cy="261.77" r="1.7" fill="#ffffff"/><circle cx="202.57" cy="264.62" r="1.58" fill="#3c4c9c"/><circle cx="244.51" cy="227.22" r="1.58" fill="#3c4c9c"/><circle cx="197.95" cy="157.87" r="1.75" fill="#ffffff"/><circle cx="74.37" cy="206.84" r="1.75" fill="#ffffff"/><circle cx="247.44" cy="257.66" r="1.8" fill="#ffffff"/><circle cx="163.08" cy="309.86" r="1.77" fill="#f80000"/><circle cx="213.01" cy="182.85" r="1.86" fill="#0c8b4a"/><circle cx="140" cy="116.57" r="1.86" fill="#f80000"/><circle cx="115.54" cy="172.71" r="2" fill="#ffffff"/><circle cx="166.52" cy="269.81" r="1.86" fill="#f80000"/><circle cx="123.3" cy="299.4" r="1.95" fill="#f80000"/><circle cx="96.26" cy="167.05" r="2.15" fill="#ffffff"/><circle cx="76.97" cy="161.39" r="2.15" fill="#ffffff"/><circle cx="93.52" cy="180.54" r="2.15" fill="#ffffff"/><circle cx="150.64" cy="91.81" r="2.2" fill="#ffffff"/><circle cx="148.35" cy="134.85" r="2.05" fill="#f80000"/><circle cx="131.65" cy="98.28" r="2.05" fill="#f80000"/><circle cx="111.12" cy="86.42" r="2.05" fill="#f80000"/><circle cx="88.85" cy="244.03" r="2.05" fill="#f80000"/><circle cx="71.94" cy="254.9" r="2.05" fill="#f80000"/><circle cx="142.34" cy="285.28" r="2.2" fill="#ffffff"/><circle cx="169.96" cy="249.9" r="2.05" fill="#f80000"/><circle cx="164.8" cy="289.83" r="2.05" fill="#f80000"/><circle cx="184.25" cy="249.02" r="2.05" fill="#3c4c9c"/><circle cx="251.71" cy="207.91" r="2.05" fill="#681a84"/><circle cx="271.29" cy="212.46" r="2.05" fill="#681a84"/><circle cx="129.93" cy="122.06" r="2.14" fill="#f80000"/><circle cx="119.07" cy="105.15" r="2.14" fill="#f80000"/><circle cx="108.36" cy="142.44" r="2.35" fill="#ffffff"/><circle cx="79.75" cy="226.16" r="2.23" fill="#3c4c9c"/><circle cx="59.81" cy="230.23" r="2.23" fill="#3c4c9c"/><circle cx="231.06" cy="245.73" r="2.33" fill="#681a84"/><circle cx="132" cy="145.86" r="2.51" fill="#f80000"/><circle cx="112.03" cy="269.29" r="2.51" fill="#0c8b4a"/><circle cx="126.5" cy="278.59" r="2.51" fill="#3c4c9c"/><circle cx="208.28" cy="238.89" r="2.51" fill="#681a84"/><circle cx="227.51" cy="216.31" r="2.51" fill="#681a84"/><circle cx="169.67" cy="129.52" r="2.79" fill="#0c8b4a"/><circle cx="154.13" cy="154.42" r="2.79" fill="#f80000"/><circle cx="113.21" cy="186.07" r="2.79" fill="#3c4c9c"/><circle cx="178.3" cy="149.8" r="2.98" fill="#0c8b4a"/><circle cx="168.43" cy="109.45" r="2.98" fill="#0c8b4a"/><circle cx="94.05" cy="202.66" r="2.98" fill="#3c4c9c"/><circle cx="129.92" cy="231.48" r="2.98" fill="#f80000"/><circle cx="115.42" cy="245.4" r="3.26" fill="#f80000"/><circle cx="183.42" cy="228.63" r="3.26" fill="#681a84"/><circle cx="133.59" cy="195.3" r="3.44" fill="#3c4c9c"/><circle cx="180.95" cy="171.07" r="3.8" fill="#ffffff"/><circle cx="173.4" cy="189.7" r="4.3" fill="#ffffff"/></g>
<g font-family="'Liberation Sans', Arial, sans-serif" font-size="6.1" text-anchor="middle" fill="#111" stroke="#111" stroke-width="0.1"><text transform="translate(221.52 186.95) rotate(-3.27)" y="2.1">e</text><text transform="translate(241.59 185.8) rotate(-3.27)" y="2.1">p</text><text transform="translate(261.66 184.65) rotate(-3.27)" y="2.1">e1</text><text transform="translate(220.89 181.48) rotate(-9.82)" y="2.1">h</text><text transform="translate(240.7 178.05) rotate(-9.82)" y="2.1">v</text><text transform="translate(260.51 174.63) rotate(-9.82)" y="2.1">l1</text><text transform="translate(280.31 171.2) rotate(-9.82)" y="2.1">l2</text><text transform="translate(300.12 167.77) rotate(-9.82)" y="2.1">u3</text><text transform="translate(216.03 167.21) rotate(-27.82)" y="2.1">g</text><text transform="translate(233.81 157.83) rotate(-27.82)" y="2.1">u</text><text transform="translate(250.37 146.23) rotate(-29.45)" y="2.1">x</text><text transform="translate(218.13 138.08) rotate(-49.09)" y="2.1">m</text><text transform="translate(231.29 122.89) rotate(-49.09)" y="2.1">w</text><text transform="translate(194.36 146.29) rotate(110.5)" y="2.1">a</text><text transform="translate(196.35 125.37) rotate(100.86)" y="2.1">i</text><text transform="translate(203.11 106.44) rotate(100.86)" y="2.1">y</text><text transform="translate(206.93 86.51) rotate(98.29)" y="2.1">m1</text><text transform="translate(179.27 141.86) rotate(81)" y="2.1">c</text><text transform="translate(169.18 121.53) rotate(66.45)" y="2.1">l</text><text transform="translate(167.93 101.47) rotate(66.45)" y="2.1">b1</text><text transform="translate(157.96 82.3) rotate(61.82)" y="2.1">n1</text><text transform="translate(147.86 63.66) rotate(58.55)" y="2.1">s2</text><text transform="translate(150.3 147.4) rotate(41.36)" y="2.1">b</text><text transform="translate(145.03 127.57) rotate(45.45)" y="2.1">k</text><text transform="translate(136.68 109.29) rotate(45.45)" y="2.1">a1</text><text transform="translate(128.33 91) rotate(45.45)" y="2.1">v1</text><text transform="translate(126.74 69.86) rotate(48.73)" y="2.1">r2</text><text transform="translate(119.98 72.72) rotate(45.45)" y="2.1">q2</text><text transform="translate(113.39 75.96) rotate(42.18)" y="2.1">p2</text><text transform="translate(126.5 140.05) rotate(30.82)" y="2.1">j</text><text transform="translate(125.61 115.33) rotate(37.27)" y="2.1">z</text><text transform="translate(114.74 98.42) rotate(37.27)" y="2.1">u1</text><text transform="translate(106.99 79.57) rotate(38.91)" y="2.1">o2</text><text transform="translate(100.81 83.54) rotate(35.64)" y="2.1">n2</text><text transform="translate(102.35 107.7) rotate(32.05)" y="2.1">t1</text><text transform="translate(89.18 92.51) rotate(32.05)" y="2.1">m2</text><text transform="translate(125.67 196.42) rotate(-8.01)" y="2.1">d</text><text transform="translate(50.01 153.47) rotate(15.68)" y="2.1">k3</text><text transform="translate(105.22 185.58) rotate(3.45)" y="2.1">n</text><text transform="translate(66.49 171.2) rotate(9.82)" y="2.1">o1</text><text transform="translate(65.08 183.51) rotate(3.27)" y="2.1">w1</text><text transform="translate(45.01 182.36) rotate(3.27)" y="2.1">t2</text><text transform="translate(86.16 203.94) rotate(-9.27)" y="2.1">c1</text><text transform="translate(64.9 189.7) rotate(0)" y="2.1">x1</text><text transform="translate(44.8 189.7) rotate(0)" y="2.1">u2</text><text transform="translate(65.61 202.07) rotate(-6.55)" y="2.1">p1</text><text transform="translate(68.46 217.28) rotate(-14.73)" y="2.1">y1</text><text transform="translate(48.14 218.83) rotate(-13.09)" y="2.1">v2</text><text transform="translate(50.01 225.93) rotate(-16.36)" y="2.1">w2</text><text transform="translate(72.29 229.06) rotate(-21.27)" y="2.1">z1</text><text transform="translate(52.28 232.92) rotate(-19.64)" y="2.1">x2</text><text transform="translate(54.94 239.76) rotate(-22.91)" y="2.1">y2</text><text transform="translate(124.15 237.02) rotate(-43.85)" y="2.1">o</text><text transform="translate(109.65 250.95) rotate(-43.85)" y="2.1">d1</text><text transform="translate(76.03 237.57) rotate(-26.18)" y="2.1">q1</text><text transform="translate(78.92 243.05) rotate(-29.45)" y="2.1">r1</text><text transform="translate(82.12 248.36) rotate(-32.73)" y="2.1">a2</text><text transform="translate(65.21 259.23) rotate(-32.73)" y="2.1">z2</text><text transform="translate(85.62 253.47) rotate(-36)" y="2.1">b2</text><text transform="translate(69.36 265.29) rotate(-36)" y="2.1">a3</text><text transform="translate(89.41 258.38) rotate(-39.27)" y="2.1">c2</text><text transform="translate(73.85 271.11) rotate(-39.27)" y="2.1">b3</text><text transform="translate(83.77 281.92) rotate(-45.82)" y="2.1">c3</text><text transform="translate(107.14 275.62) rotate(-52.36)" y="2.1">d2</text><text transform="translate(94.87 291.54) rotate(-52.36)" y="2.1">d3</text><text transform="translate(122.77 285.66) rotate(-62.18)" y="2.1">e2</text><text transform="translate(106.99 299.83) rotate(-58.91)" y="2.1">e3</text><text transform="translate(113.39 303.44) rotate(-62.18)" y="2.1">f3</text><text transform="translate(119.98 306.68) rotate(-245.45)" y="2.1">g3</text><text transform="translate(126.74 309.54) rotate(-248.73)" y="2.1">h3</text><text transform="translate(133.66 312.01) rotate(-252)" y="2.1">i3</text><text transform="translate(140.71 314.08) rotate(-255.27)" y="2.1">j3</text><text transform="translate(185.42 236.38) rotate(-284.44)" y="2.1">f</text><text transform="translate(169.5 257.89) rotate(-266.73)" y="2.1">s</text><text transform="translate(165.84 277.78) rotate(-265.09)" y="2.1">i1</text><text transform="translate(164.12 297.8) rotate(-265.09)" y="2.1">i2</text><text transform="translate(162.4 317.83) rotate(-265.09)" y="2.1">o3</text><text transform="translate(185.69 256.89) rotate(-280.36)" y="2.1">q</text><text transform="translate(190.96 276.34) rotate(-281.45)" y="2.1">g1</text><text transform="translate(194.95 296.04) rotate(-281.45)" y="2.1">g2</text><text transform="translate(198.94 315.74) rotate(-281.45)" y="2.1">m3</text><text transform="translate(205.47 272.08) rotate(-291.27)" y="2.1">f1</text><text transform="translate(212.76 290.81) rotate(-291.27)" y="2.1">s1</text><text transform="translate(218.47 288.4) rotate(-294.55)" y="2.1">f2</text><text transform="translate(226.82 306.68) rotate(-294.55)" y="2.1">l3</text><text transform="translate(212.91 245.41) rotate(-305.35)" y="2.1">r</text><text transform="translate(236.79 251.31) rotate(-315.82)" y="2.1">h1</text><text transform="translate(244.45 271.7) rotate(-310.91)" y="2.1">h2</text><text transform="translate(257.62 286.89) rotate(-310.91)" y="2.1">n3</text><text transform="translate(234.69 219.84) rotate(-333.82)" y="2.1">t</text><text transform="translate(281.59 259.23) rotate(-327.27)" y="2.1">r3</text><text transform="translate(251.58 230.95) rotate(-332.18)" y="2.1">k1</text><text transform="translate(270.77 237.57) rotate(-333.82)" y="2.1">k2</text><text transform="translate(288.81 246.44) rotate(-333.82)" y="2.1">s3</text><text transform="translate(294.52 232.92) rotate(-340.36)" y="2.1">t3</text><text transform="translate(259.5 209.72) rotate(-346.91)" y="2.1">j1</text><text transform="translate(279.08 214.27) rotate(-346.91)" y="2.1">j2</text><text transform="translate(298.66 218.83) rotate(-346.91)" y="2.1">p3</text><text transform="translate(300.12 211.63) rotate(-350.18)" y="2.1">q3</text></g></g>
<g id="groups"><rect x="290.6" y="367.5" width="8.2" height="8.2" fill="#3c4c9c"/>
<text x="302.6" y="373.6" font-family="'Liberation Serif', serif" font-size="6.2" fill="#111">Ctrl</text>
<rect x="315.6" y="367.5" width="8.2" height="8.2" fill="#f80000"/>
<text x="328" y="373.6" font-family="'Liberation Serif', serif" font-size="6.2" fill="#111">CCl4</text>
<rect x="344.9" y="367.5" width="8.2" height="8.2" fill="#0c8b4a"/>
<text x="356.6" y="373.6" font-family="'Liberation Serif', serif" font-size="6.2" fill="#111">CD</text>
<rect x="369" y="367.5" width="8.2" height="8.2" fill="#681a84"/>
<text x="381" y="373.6" font-family="'Liberation Serif', serif" font-size="6.2" fill="#111">CDA</text></g>
<g id="taxa"><g fill="#f80000"><rect x="15.5" y="431.81" width="8.1" height="7.8"/><rect x="15.5" y="475.86" width="8.1" height="7.8"/><rect x="15.5" y="502.29" width="8.1" height="7.8"/><rect x="15.5" y="511.1" width="8.1" height="7.8"/><rect x="15.5" y="528.72" width="8.1" height="7.8"/><rect x="15.5" y="546.34" width="8.1" height="7.8"/><rect x="15.5" y="581.58" width="8.1" height="7.8"/><rect x="15.5" y="599.2" width="8.1" height="7.8"/><rect x="15.5" y="616.82" width="8.1" height="7.8"/><rect x="15.5" y="625.63" width="8.1" height="7.8"/><rect x="100.9" y="423" width="8.1" height="7.8"/><rect x="100.9" y="431.81" width="8.1" height="7.8"/><rect x="100.9" y="458.24" width="8.1" height="7.8"/><rect x="100.9" y="502.29" width="8.1" height="7.8"/><rect x="100.9" y="581.58" width="8.1" height="7.8"/><rect x="100.9" y="608.01" width="8.1" height="7.8"/><rect x="100.9" y="616.82" width="8.1" height="7.8"/><rect x="100.9" y="625.63" width="8.1" height="7.8"/><rect x="100.9" y="634.44" width="8.1" height="7.8"/><rect x="183.3" y="440.62" width="8.1" height="7.8"/><rect x="183.3" y="449.43" width="8.1" height="7.8"/><rect x="183.3" y="458.24" width="8.1" height="7.8"/><rect x="183.3" y="511.1" width="8.1" height="7.8"/><rect x="183.3" y="555.15" width="8.1" height="7.8"/><rect x="183.3" y="572.77" width="8.1" height="7.8"/><rect x="183.3" y="608.01" width="8.1" height="7.8"/><rect x="183.3" y="616.82" width="8.1" height="7.8"/><rect x="311.5" y="440.62" width="8.1" height="7.8"/><rect x="311.5" y="449.43" width="8.1" height="7.8"/><rect x="311.5" y="458.24" width="8.1" height="7.8"/><rect x="311.5" y="467.05" width="8.1" height="7.8"/><rect x="311.5" y="502.29" width="8.1" height="7.8"/><rect x="311.5" y="572.77" width="8.1" height="7.8"/></g>
<g fill="#0c8b4a"><rect x="15.5" y="440.62" width="8.1" height="7.8"/><rect x="15.5" y="484.67" width="8.1" height="7.8"/><rect x="15.5" y="519.91" width="8.1" height="7.8"/><rect x="15.5" y="608.01" width="8.1" height="7.8"/><rect x="100.9" y="440.62" width="8.1" height="7.8"/><rect x="100.9" y="528.72" width="8.1" height="7.8"/><rect x="100.9" y="546.34" width="8.1" height="7.8"/><rect x="100.9" y="572.77" width="8.1" height="7.8"/><rect x="183.3" y="467.05" width="8.1" height="7.8"/><rect x="183.3" y="537.53" width="8.1" height="7.8"/><rect x="311.5" y="484.67" width="8.1" height="7.8"/><rect x="311.5" y="537.53" width="8.1" height="7.8"/><rect x="311.5" y="625.63" width="8.1" height="7.8"/></g>
<g fill="#3c4c9c"><rect x="15.5" y="449.43" width="8.1" height="7.8"/><rect x="15.5" y="537.53" width="8.1" height="7.8"/><rect x="15.5" y="563.96" width="8.1" height="7.8"/><rect x="100.9" y="449.43" width="8.1" height="7.8"/><rect x="100.9" y="475.86" width="8.1" height="7.8"/><rect x="100.9" y="484.67" width="8.1" height="7.8"/><rect x="100.9" y="519.91" width="8.1" height="7.8"/><rect x="100.9" y="555.15" width="8.1" height="7.8"/><rect x="100.9" y="563.96" width="8.1" height="7.8"/><rect x="100.9" y="599.2" width="8.1" height="7.8"/><rect x="183.3" y="431.81" width="8.1" height="7.8"/><rect x="183.3" y="475.86" width="8.1" height="7.8"/><rect x="183.3" y="484.67" width="8.1" height="7.8"/><rect x="183.3" y="493.48" width="8.1" height="7.8"/><rect x="183.3" y="528.72" width="8.1" height="7.8"/><rect x="183.3" y="546.34" width="8.1" height="7.8"/><rect x="183.3" y="563.96" width="8.1" height="7.8"/><rect x="183.3" y="581.58" width="8.1" height="7.8"/><rect x="183.3" y="590.39" width="8.1" height="7.8"/><rect x="183.3" y="599.2" width="8.1" height="7.8"/><rect x="311.5" y="423" width="8.1" height="7.8"/><rect x="311.5" y="431.81" width="8.1" height="7.8"/><rect x="311.5" y="475.86" width="8.1" height="7.8"/><rect x="311.5" y="493.48" width="8.1" height="7.8"/><rect x="311.5" y="519.91" width="8.1" height="7.8"/><rect x="311.5" y="528.72" width="8.1" height="7.8"/><rect x="311.5" y="546.34" width="8.1" height="7.8"/><rect x="311.5" y="555.15" width="8.1" height="7.8"/><rect x="311.5" y="599.2" width="8.1" height="7.8"/><rect x="311.5" y="608.01" width="8.1" height="7.8"/></g>
<g fill="#681a84"><rect x="15.5" y="423" width="8.1" height="7.8"/><rect x="15.5" y="458.24" width="8.1" height="7.8"/><rect x="15.5" y="467.05" width="8.1" height="7.8"/><rect x="15.5" y="493.48" width="8.1" height="7.8"/><rect x="15.5" y="555.15" width="8.1" height="7.8"/><rect x="15.5" y="572.77" width="8.1" height="7.8"/><rect x="15.5" y="590.39" width="8.1" height="7.8"/><rect x="15.5" y="634.44" width="8.1" height="7.8"/><rect x="100.9" y="467.05" width="8.1" height="7.8"/><rect x="100.9" y="493.48" width="8.1" height="7.8"/><rect x="100.9" y="511.1" width="8.1" height="7.8"/><rect x="100.9" y="537.53" width="8.1" height="7.8"/><rect x="100.9" y="590.39" width="8.1" height="7.8"/><rect x="183.3" y="423" width="8.1" height="7.8"/><rect x="183.3" y="502.29" width="8.1" height="7.8"/><rect x="183.3" y="519.91" width="8.1" height="7.8"/><rect x="183.3" y="625.63" width="8.1" height="7.8"/><rect x="183.3" y="634.44" width="8.1" height="7.8"/><rect x="311.5" y="511.1" width="8.1" height="7.8"/><rect x="311.5" y="563.96" width="8.1" height="7.8"/><rect x="311.5" y="581.58" width="8.1" height="7.8"/><rect x="311.5" y="590.39" width="8.1" height="7.8"/><rect x="311.5" y="616.82" width="8.1" height="7.8"/></g>
<g font-family="'Liberation Serif', 'Times New Roman', serif" font-style="italic" font-size="6.1" fill="#111" stroke="#111" stroke-width="0.13"><text x="27" y="428.9">a: p__Acidobacteria</text><text x="27" y="437.71">b: p__Actinobacteria</text><text x="27" y="446.52">c: p__Bacteroidetes</text><text x="27" y="455.33">d: p__Firmicutes</text><text x="27" y="464.14">e: p__Fusobacteria</text><text x="27" y="472.95">f: p__Proteobacteria</text><text x="27" y="481.76">g: p__Tenericutes</text><text x="27" y="490.57">h: p__Verrucomicrobia</text><text x="27" y="499.38">i: c__Acidobacteriia</text><text x="27" y="508.19">j: c__Actinobacteria</text><text x="27" y="517">k: c__Coriobacteriia</text><text x="27" y="525.81">l: c__Bacteroidia</text><text x="27" y="534.62">m: c__4C0d_2</text><text x="27" y="543.43">n: c__Bacilli</text><text x="27" y="552.24">o: c__Clostridia</text><text x="27" y="561.05">p: c__Fusobacteriia</text><text x="27" y="569.86">q: c__Alphaproteobacteria</text><text x="27" y="578.67">r: c__Betaproteobacteria</text><text x="27" y="587.48">s: c__Deltaproteobacteria</text><text x="27" y="596.29">t: c__Gammaproteobacteria</text><text x="27" y="605.1">u: c__Mollicutes</text><text x="27" y="613.91">v: c__Verrucomicrobiae</text><text x="27" y="622.72">w: o__YS2</text><text x="27" y="631.53">x: o__RF39</text><text x="27" y="640.34">y: o__Acidobacteriales</text><text x="112.3" y="428.9">z: o__Bifidobacteriales</text><text x="112.3" y="437.71">a1: o__Coriobacteriales</text><text x="112.3" y="446.52">b1: o__Bacteroidales</text><text x="112.3" y="455.33">c1: o__Lactobacillales</text><text x="112.3" y="464.14">d1: o__Clostridiales</text><text x="112.3" y="472.95">e1: o__Fusobacteriales</text><text x="112.3" y="481.76">f1: o__Rhizobiales</text><text x="112.3" y="490.57">g1: o__Rickettsiales</text><text x="112.3" y="499.38">h1: o__Burkholderiales</text><text x="112.3" y="508.19">i1: o__Desulfovibrionales</text><text x="112.3" y="517">j1: o__Enterobacteriales</text><text x="112.3" y="525.81">k1: o__Pseudomonadales</text><text x="112.3" y="534.62">l1: o__Verrucomicrobiales</text><text x="112.3" y="543.43">m1: f__Koribacteraceae</text><text x="112.3" y="552.24">n1: f__S24_7</text><text x="112.3" y="561.05">o1: f__Bacillaceae</text><text x="112.3" y="569.86">p1: f__Leuconostocaceae</text><text x="112.3" y="578.67">q1: f__[Mogibacteriaceae]</text><text x="112.3" y="587.48">r1: f__Christensenellaceae</text><text x="112.3" y="596.29">s1: f__Bradyrhizobiaceae</text><text x="112.3" y="605.1">t1: f__Actinomycetaceae</text><text x="112.3" y="613.91">u1: f__Bifidobacteriaceae</text><text x="112.3" y="622.72">v1: f__Coriobacteriaceae</text><text x="112.3" y="631.53">w1: f__Staphylococcaceae</text><text x="112.3" y="640.34">x1: f__Aerococcaceae</text><text x="195" y="428.9">y1: f__Enterococcaceae</text><text x="195" y="437.71">z1: f__Lactobacillaceae</text><text x="195" y="446.52">a2: f__Clostridiaceae</text><text x="195" y="455.33">b2: f__Dehalobacteriaceae</text><text x="195" y="464.14">c2: f__Eubacteriaceae</text><text x="195" y="472.95">d2: f__Lachnospiraceae</text><text x="195" y="481.76">e2: f__Ruminococcaceae</text><text x="195" y="490.57">f2: f__Xanthobacteraceae</text><text x="195" y="499.38">g2: f__mitochondria</text><text x="195" y="508.19">h2: f__Alcaligenaceae</text><text x="195" y="517">i2: f__Desulfovibrionaceae</text><text x="195" y="525.81">j2: f__Enterobacteriaceae</text><text x="195" y="534.62">k2: f__Pseudomonadaceae</text><text x="195" y="543.43">l2: f__Verrucomicrobiaceae</text><text x="195" y="552.24">m2: g__Mobiluncus</text><text x="195" y="561.05">n2: g__Bifidobacterium</text><text x="195" y="569.86">o2: g__Bombiscardovia</text><text x="195" y="578.67">p2: g__Adlercreutzia</text><text x="195" y="587.48">q2: g__Olsenella</text><text x="195" y="596.29">r2: g__Paraeggerthella</text><text x="195" y="605.1">s2: g__Alistipes</text><text x="195" y="613.91">t2: f__Staphylococcaceae_g__Staphylococcus</text><text x="195" y="622.72">u2: g__Aerococcus</text><text x="195" y="631.53">v2: g__Enterococcus</text><text x="195" y="640.34">w2: g__Melissococcus</text><text x="323.4" y="428.9">x2: g__Lactobacillus</text><text x="323.4" y="437.71">y2: g__Pediococcus</text><text x="323.4" y="446.52">z2: f__Clostridiaceae_g__Clostridium</text><text x="323.4" y="455.33">a3: g__Dehalobacterium</text><text x="323.4" y="464.14">b3: g__Anaerofustis</text><text x="323.4" y="472.95">c3: g__Coprococcus</text><text x="323.4" y="481.76">d3: g__Peptostreptococcus</text><text x="323.4" y="490.57">e3: g__Butyricicoccus</text><text x="323.4" y="499.38">f3: g__Oscillospira</text><text x="323.4" y="508.19">g3: g__Ruminococcus</text><text x="323.4" y="517">h3: g__Dialister</text><text x="323.4" y="525.81">i3: g__Selenomonas</text><text x="323.4" y="534.62">j3: g__Veillonella</text><text x="323.4" y="543.43">k3: f__Erysipelotrichaceae_g__Clostridium</text><text x="323.4" y="552.24">l3: g__Azorhizobium</text><text x="323.4" y="561.05">m3: g__Silene</text><text x="323.4" y="569.86">n3: g__Sutterella</text><text x="323.4" y="578.67">o3: g__Desulfovibrio</text><text x="323.4" y="587.48">p3: g__Shigella</text><text x="323.4" y="596.29">q3: g__Xenorhabdus</text><text x="323.4" y="605.1">r3: g__Gallibacterium</text><text x="323.4" y="613.91">s3: f__Pseudomonadaceae_g__Pseudomonas</text><text x="323.4" y="622.72">t3: g__Stenotrophomonas</text><text x="323.4" y="631.53">u3: g__Akkermansia</text></g></g>
<g id="lda"><rect x="524.2" y="12.9" width="229.8" height="672.5" fill="#fff" stroke="none"/>
<path d="M524.2 17.2H754M524.2 23.91H754M524.2 30.63H754M524.2 37.34H754M524.2 44.06H754M524.2 50.77H754M524.2 57.49H754M524.2 64.2H754M524.2 70.92H754M524.2 77.63H754M524.2 84.35H754M524.2 91.06H754M524.2 97.78H754M524.2 104.49H754M524.2 111.21H754M524.2 117.92H754M524.2 124.63H754M524.2 131.35H754M524.2 138.06H754M524.2 144.78H754M524.2 151.49H754M524.2 158.21H754M524.2 164.92H754M524.2 171.64H754M524.2 178.35H754M524.2 185.07H754M524.2 191.78H754M524.2 198.5H754M524.2 205.21H754M524.2 211.92H754M524.2 218.64H754M524.2 225.35H754M524.2 232.07H754M524.2 238.78H754M524.2 245.5H754M524.2 252.21H754M524.2 258.93H754M524.2 265.64H754M524.2 272.36H754M524.2 279.07H754M524.2 285.79H754M524.2 292.5H754M524.2 299.22H754M524.2 305.93H754M524.2 312.64H754M524.2 319.36H754M524.2 326.07H754M524.2 332.79H754M524.2 339.5H754M524.2 346.22H754M524.2 352.93H754M524.2 359.65H754M524.2 366.36H754M524.2 373.08H754M524.2 379.79H754M524.2 386.51H754M524.2 393.22H754M524.2 399.93H754M524.2 406.65H754M524.2 413.36H754M524.2 420.08H754M524.2 426.79H754M524.2 433.51H754M524.2 440.22H754M524.2 446.94H754M524.2 453.65H754M524.2 460.37H754M524.2 467.08H754M524.2 473.8H754M524.2 480.51H754M524.2 487.23H754M524.2 493.94H754M524.2 500.65H754M524.2 507.37H754M524.2 514.08H754M524.2 520.8H754M524.2 527.51H754M524.2 534.23H754M524.2 540.94H754M524.2 547.66H754M524.2 554.37H754M524.2 561.09H754M524.2 567.8H754M524.2 574.52H754M524.2 581.23H754M524.2 587.94H754M524.2 594.66H754M524.2 601.37H754M524.2 608.09H754M524.2 614.8H754M524.2 621.52H754M524.2 628.23H754M524.2 634.95H754M524.2 641.66H754M524.2 648.38H754M524.2 655.09H754M524.2 661.81H754M524.2 668.52H754M524.2 675.24H754M524.2 681.95H754" stroke="#c4c4c0" stroke-width="0.9" fill="none"/>
<path d="M534.2 12.9V685.4M571.2 12.9V685.4M608.2 12.9V685.4M645.2 12.9V685.4M682.2 12.9V685.4M719.2 12.9V685.4" stroke="#c4c4c4" stroke-width="0.8" fill="none"/>
<g fill="#f80000" stroke="#101010" stroke-width="0.7"><rect x="534.2" y="14.6" width="185.2" height="5.2"/><rect x="534.2" y="21.31" width="185.2" height="5.2"/><rect x="534.2" y="28.03" width="164.5" height="5.2"/><rect x="534.2" y="34.74" width="164.2" height="5.2"/><rect x="534.2" y="41.46" width="164.2" height="5.2"/><rect x="534.2" y="48.17" width="164.5" height="5.2"/><rect x="534.2" y="54.89" width="154.3" height="5.2"/><rect x="534.2" y="61.6" width="152.6" height="5.2"/><rect x="534.2" y="68.32" width="152.6" height="5.2"/><rect x="534.2" y="75.03" width="147.3" height="5.2"/><rect x="534.2" y="81.75" width="146.2" height="5.2"/><rect x="534.2" y="88.46" width="146.2" height="5.2"/><rect x="534.2" y="95.18" width="146.2" height="5.2"/><rect x="534.2" y="101.89" width="141.6" height="5.2"/><rect x="534.2" y="108.61" width="139" height="5.2"/><rect x="534.2" y="115.32" width="138.4" height="5.2"/><rect x="534.2" y="122.03" width="138.4" height="5.2"/><rect x="534.2" y="128.75" width="138.2" height="5.2"/><rect x="534.2" y="135.46" width="133.3" height="5.2"/><rect x="534.2" y="142.18" width="132.1" height="5.2"/><rect x="534.2" y="148.89" width="127.3" height="5.2"/><rect x="534.2" y="155.61" width="126.6" height="5.2"/><rect x="534.2" y="162.32" width="126.1" height="5.2"/><rect x="534.2" y="169.04" width="126.1" height="5.2"/><rect x="534.2" y="175.75" width="126.1" height="5.2"/><rect x="534.2" y="182.47" width="122.8" height="5.2"/><rect x="534.2" y="189.18" width="122.1" height="5.2"/><rect x="534.2" y="195.9" width="116.2" height="5.2"/><rect x="534.2" y="202.61" width="115.5" height="5.2"/><rect x="534.2" y="209.32" width="109.3" height="5.2"/><rect x="534.2" y="216.04" width="106.9" height="5.2"/><rect x="534.2" y="222.75" width="101.2" height="5.2"/><rect x="534.2" y="229.47" width="101.2" height="5.2"/></g>
<g fill="#0c8b4a" stroke="#101010" stroke-width="0.7"><rect x="534.2" y="236.18" width="196.5" height="5.2"/><rect x="534.2" y="242.9" width="196.5" height="5.2"/><rect x="534.2" y="249.61" width="196.5" height="5.2"/><rect x="534.2" y="256.33" width="196.5" height="5.2"/><rect x="534.2" y="263.04" width="196.6" height="5.2"/><rect x="534.2" y="269.76" width="183.2" height="5.2"/><rect x="534.2" y="276.47" width="183.2" height="5.2"/><rect x="534.2" y="283.19" width="183.2" height="5.2"/><rect x="534.2" y="289.9" width="182.3" height="5.2"/><rect x="534.2" y="296.62" width="164.5" height="5.2"/><rect x="534.2" y="303.33" width="137.2" height="5.2"/><rect x="534.2" y="310.04" width="134.3" height="5.2"/><rect x="534.2" y="316.76" width="127.9" height="5.2"/><rect x="534.2" y="323.47" width="121.3" height="5.2"/></g>
<g fill="#681a84" stroke="#101010" stroke-width="0.7"><rect x="534.2" y="330.19" width="209.4" height="5.2"/><rect x="534.2" y="336.9" width="209.4" height="5.2"/><rect x="534.2" y="343.62" width="209.4" height="5.2"/><rect x="534.2" y="350.33" width="209.1" height="5.2"/><rect x="534.2" y="357.05" width="163.3" height="5.2"/><rect x="534.2" y="363.76" width="140.7" height="5.2"/><rect x="534.2" y="370.48" width="140.7" height="5.2"/><rect x="534.2" y="377.19" width="140.5" height="5.2"/><rect x="534.2" y="383.91" width="140.3" height="5.2"/><rect x="534.2" y="390.62" width="140" height="5.2"/><rect x="534.2" y="397.33" width="139" height="5.2"/><rect x="534.2" y="404.05" width="138.6" height="5.2"/><rect x="534.2" y="410.76" width="138.6" height="5.2"/><rect x="534.2" y="417.48" width="138.3" height="5.2"/><rect x="534.2" y="424.19" width="136.2" height="5.2"/><rect x="534.2" y="430.91" width="135.2" height="5.2"/><rect x="534.2" y="437.62" width="133.8" height="5.2"/><rect x="534.2" y="444.34" width="129.3" height="5.2"/><rect x="534.2" y="451.05" width="129.3" height="5.2"/><rect x="534.2" y="457.77" width="129.1" height="5.2"/><rect x="534.2" y="464.48" width="128.8" height="5.2"/><rect x="534.2" y="471.2" width="128.4" height="5.2"/><rect x="534.2" y="477.91" width="115.5" height="5.2"/></g>
<g fill="#3c4c9c" stroke="#101010" stroke-width="0.7"><rect x="534.2" y="484.63" width="204.2" height="5.2"/><rect x="534.2" y="491.34" width="199.2" height="5.2"/><rect x="534.2" y="498.05" width="198.4" height="5.2"/><rect x="534.2" y="504.77" width="198.4" height="5.2"/><rect x="534.2" y="511.48" width="198.2" height="5.2"/><rect x="534.2" y="518.2" width="168.3" height="5.2"/><rect x="534.2" y="524.91" width="165.2" height="5.2"/><rect x="534.2" y="531.63" width="159.7" height="5.2"/><rect x="534.2" y="538.34" width="152.4" height="5.2"/><rect x="534.2" y="545.06" width="135.3" height="5.2"/><rect x="534.2" y="551.77" width="130.8" height="5.2"/><rect x="534.2" y="558.49" width="130.3" height="5.2"/><rect x="534.2" y="565.2" width="127.4" height="5.2"/><rect x="534.2" y="571.92" width="124.4" height="5.2"/><rect x="534.2" y="578.63" width="120.6" height="5.2"/><rect x="534.2" y="585.34" width="120.1" height="5.2"/><rect x="534.2" y="592.06" width="119.4" height="5.2"/><rect x="534.2" y="598.77" width="117.6" height="5.2"/><rect x="534.2" y="605.49" width="117" height="5.2"/><rect x="534.2" y="612.2" width="116.4" height="5.2"/><rect x="534.2" y="618.92" width="115.7" height="5.2"/><rect x="534.2" y="625.63" width="115.1" height="5.2"/><rect x="534.2" y="632.35" width="114" height="5.2"/><rect x="534.2" y="639.06" width="113.3" height="5.2"/><rect x="534.2" y="645.78" width="113" height="5.2"/><rect x="534.2" y="652.49" width="110" height="5.2"/><rect x="534.2" y="659.21" width="109.2" height="5.2"/><rect x="534.2" y="665.92" width="108.3" height="5.2"/><rect x="534.2" y="672.64" width="107.1" height="5.2"/><rect x="534.2" y="679.35" width="102.4" height="5.2"/></g>
<rect x="524.2" y="12.9" width="229.8" height="672.5" fill="none" stroke="#b4b4b4" stroke-width="1.1"/>
<path d="M522.5 17.2H524M522.5 23.91H524M522.5 30.63H524M522.5 37.34H524M522.5 44.06H524M522.5 50.77H524M522.5 57.49H524M522.5 64.2H524M522.5 70.92H524M522.5 77.63H524M522.5 84.35H524M522.5 91.06H524M522.5 97.78H524M522.5 104.49H524M522.5 111.21H524M522.5 117.92H524M522.5 124.63H524M522.5 131.35H524M522.5 138.06H524M522.5 144.78H524M522.5 151.49H524M522.5 158.21H524M522.5 164.92H524M522.5 171.64H524M522.5 178.35H524M522.5 185.07H524M522.5 191.78H524M522.5 198.5H524M522.5 205.21H524M522.5 211.92H524M522.5 218.64H524M522.5 225.35H524M522.5 232.07H524M522.5 238.78H524M522.5 245.5H524M522.5 252.21H524M522.5 258.93H524M522.5 265.64H524M522.5 272.36H524M522.5 279.07H524M522.5 285.79H524M522.5 292.5H524M522.5 299.22H524M522.5 305.93H524M522.5 312.64H524M522.5 319.36H524M522.5 326.07H524M522.5 332.79H524M522.5 339.5H524M522.5 346.22H524M522.5 352.93H524M522.5 359.65H524M522.5 366.36H524M522.5 373.08H524M522.5 379.79H524M522.5 386.51H524M522.5 393.22H524M522.5 399.93H524M522.5 406.65H524M522.5 413.36H524M522.5 420.08H524M522.5 426.79H524M522.5 433.51H524M522.5 440.22H524M522.5 446.94H524M522.5 453.65H524M522.5 460.37H524M522.5 467.08H524M522.5 473.8H524M522.5 480.51H524M522.5 487.23H524M522.5 493.94H524M522.5 500.65H524M522.5 507.37H524M522.5 514.08H524M522.5 520.8H524M522.5 527.51H524M522.5 534.23H524M522.5 540.94H524M522.5 547.66H524M522.5 554.37H524M522.5 561.09H524M522.5 567.8H524M522.5 574.52H524M522.5 581.23H524M522.5 587.94H524M522.5 594.66H524M522.5 601.37H524M522.5 608.09H524M522.5 614.8H524M522.5 621.52H524M522.5 628.23H524M522.5 634.95H524M522.5 641.66H524M522.5 648.38H524M522.5 655.09H524M522.5 661.81H524M522.5 668.52H524M522.5 675.24H524M522.5 681.95H524" stroke="#111" stroke-width="0.9" fill="none"/>
<path d="M534.2 685.4V687.6M608.2 685.4V687.6M682.2 685.4V687.6" stroke="#333" stroke-width="0.6" fill="none"/>
<g font-family="'Liberation Serif', 'Times New Roman', serif" font-style="italic" font-size="5.45" text-anchor="end" fill="#111" stroke="#111" stroke-width="0.13"><text x="520.3" y="18.75">c__Clostridia</text><text x="520.3" y="25.46">o__Clostridiales</text><text x="520.3" y="32.18">g__Desulfovibrio</text><text x="520.3" y="38.89">c__Deltaproteobacteria</text><text x="520.3" y="45.61">f__Desulfovibrionaceae</text><text x="520.3" y="52.32">o__Desulfovibrionales</text><text x="520.3" y="59.04">p__Actinobacteria</text><text x="520.3" y="65.75">f__Clostridiaceae</text><text x="520.3" y="72.47">f__Clostridiaceae_g__Clostridium</text><text x="520.3" y="79.18">g__Ruminococcus</text><text x="520.3" y="85.9">o__Coriobacteriales</text><text x="520.3" y="92.61">f__Coriobacteriaceae</text><text x="520.3" y="99.33">c__Coriobacteriia</text><text x="520.3" y="106.04">g__Adlercreutzia</text><text x="520.3" y="112.76">c__Actinobacteria</text><text x="520.3" y="119.47">o__Bifidobacteriales</text><text x="520.3" y="126.18">f__Bifidobacteriaceae</text><text x="520.3" y="132.9">g__Bifidobacterium</text><text x="520.3" y="139.61">f__Christensenellaceae</text><text x="520.3" y="146.33">g__Coprococcus</text><text x="520.3" y="153.04">f__Aerococcaceae</text><text x="520.3" y="159.76">g__Aerococcus</text><text x="520.3" y="166.47">c__Mollicutes</text><text x="520.3" y="173.19">p__Tenericutes</text><text x="520.3" y="179.9">o__RF39</text><text x="520.3" y="186.62">g__Dehalobacterium</text><text x="520.3" y="193.33">f__Dehalobacteriaceae</text><text x="520.3" y="200.05">f__Eubacteriaceae</text><text x="520.3" y="206.76">g__Anaerofustis</text><text x="520.3" y="213.47">f__Staphylococcaceae_g__Staphylococcus</text><text x="520.3" y="220.19">f__Staphylococcaceae</text><text x="520.3" y="226.9">o__YS2</text><text x="520.3" y="233.62">c__4C0d_2</text><text x="520.3" y="240.33">o__Verrucomicrobiales</text><text x="520.3" y="247.05">c__Verrucomicrobiae</text><text x="520.3" y="253.76">f__Verrucomicrobiaceae</text><text x="520.3" y="260.48">p__Verrucomicrobia</text><text x="520.3" y="267.19">g__Akkermansia</text><text x="520.3" y="273.91">c__Bacteroidia</text><text x="520.3" y="280.62">o__Bacteroidales</text><text x="520.3" y="287.34">p__Bacteroidetes</text><text x="520.3" y="294.05">f__S24_7</text><text x="520.3" y="300.77">f__Lachnospiraceae</text><text x="520.3" y="307.48">g__Butyricicoccus</text><text x="520.3" y="314.19">f__Erysipelotrichaceae_g__Clostridium</text><text x="520.3" y="320.91">f__[Mogibacteriaceae]</text><text x="520.3" y="327.62">g__[Ruminococcus]</text><text x="520.3" y="334.34">c__Gammaproteobacteria</text><text x="520.3" y="341.05">f__Enterobacteriaceae</text><text x="520.3" y="347.77">o__Enterobacteriales</text><text x="520.3" y="354.48">p__Proteobacteria</text><text x="520.3" y="361.2">g__Shigella</text><text x="520.3" y="367.91">o__Burkholderiales</text><text x="520.3" y="374.63">c__Betaproteobacteria</text><text x="520.3" y="381.34">f__Alcaligenaceae</text><text x="520.3" y="388.06">g__Sutterella</text><text x="520.3" y="394.77">f__Enterococcaceae</text><text x="520.3" y="401.48">g__Stenotrophomonas</text><text x="520.3" y="408.2">o__Acidobacteriales</text><text x="520.3" y="414.91">c__Acidobacteriia</text><text x="520.3" y="421.63">g__Enterococcus</text><text x="520.3" y="428.34">g__Xenorhabdus</text><text x="520.3" y="435.06">p__Acidobacteria</text><text x="520.3" y="441.77">f__Koribacteraceae</text><text x="520.3" y="448.49">p__Fusobacteria</text><text x="520.3" y="455.2">f__Bradyrhizobiaceae</text><text x="520.3" y="461.92">o__Fusobacteriales</text><text x="520.3" y="468.63">c__Fusobacteriia</text><text x="520.3" y="475.35">g__Dialister</text><text x="520.3" y="482.06">g__Melissococcus</text><text x="520.3" y="488.78">p__Firmicutes</text><text x="520.3" y="495.49">c__Bacilli</text><text x="520.3" y="502.2">f__Lactobacillaceae</text><text x="520.3" y="508.92">g__Lactobacillus</text><text x="520.3" y="515.63">o__Lactobacillales</text><text x="520.3" y="522.35">g__Gallibacterium</text><text x="520.3" y="529.06">f__Ruminococcaceae</text><text x="520.3" y="535.78">g__Oscillospira</text><text x="520.3" y="542.49">g__Alistipes</text><text x="520.3" y="549.21">g__Peptostreptococcus</text><text x="520.3" y="555.92">g__Olsenella</text><text x="520.3" y="562.64">g__Selenomonas</text><text x="520.3" y="569.35">g__Mobiluncus</text><text x="520.3" y="576.07">g__Paraeggerthella</text><text x="520.3" y="582.78">f__Actinomycetaceae</text><text x="520.3" y="589.49">f__Bacillaceae</text><text x="520.3" y="596.21">f__Leuconostocaceae</text><text x="520.3" y="602.92">g__Veillonella</text><text x="520.3" y="609.64">f__Pseudomonadaceae</text><text x="520.3" y="616.35">o__Pseudomonadales</text><text x="520.3" y="623.07">o__Rickettsiales</text><text x="520.3" y="629.78">g__Bombiscardovia</text><text x="520.3" y="636.5">g__Silene</text><text x="520.3" y="643.21">f__Pseudomonadaceae_g__Pseudomonas</text><text x="520.3" y="649.93">f__mitochondria</text><text x="520.3" y="656.64">g__Pediococcus</text><text x="520.3" y="663.36">c__Alphaproteobacteria</text><text x="520.3" y="670.07">o__Rhizobiales</text><text x="520.3" y="676.79">f__Xanthobacteraceae</text><text x="520.3" y="683.5">g__Azorhizobium</text></g>
<g font-family="'Liberation Serif', serif" font-size="6.6" text-anchor="middle" fill="#111"><text x="534.2" y="694">0</text><text x="608.2" y="694">2</text><text x="682.2" y="694">4</text></g>
<text x="639" y="8.0" font-family="'Liberation Serif', serif" font-size="8.2" text-anchor="middle" fill="#111">The current LDA threshold is 2</text>
<rect x="766" y="332.2" width="10.8" height="11.1" fill="#3c4c9c" stroke="#222" stroke-width="0.85"/>
<text x="790" y="340.3" font-family="'Liberation Serif', serif" font-size="8.2" text-anchor="middle" fill="#111">Ctrl</text>
<rect x="766" y="344.05" width="10.8" height="11.1" fill="#f80000" stroke="#222" stroke-width="0.85"/>
<text x="790" y="352.15" font-family="'Liberation Serif', serif" font-size="8.2" text-anchor="middle" fill="#111">CCl4</text>
<rect x="766" y="355.9" width="10.8" height="11.1" fill="#0c8b4a" stroke="#222" stroke-width="0.85"/>
<text x="790" y="364" font-family="'Liberation Serif', serif" font-size="8.2" text-anchor="middle" fill="#111">CD</text>
<rect x="766" y="367.75" width="10.8" height="11.1" fill="#681a84" stroke="#222" stroke-width="0.85"/>
<text x="790" y="375.85" font-family="'Liberation Serif', serif" font-size="8.2" text-anchor="middle" fill="#111">CDA</text></g>
</svg></body></html>
